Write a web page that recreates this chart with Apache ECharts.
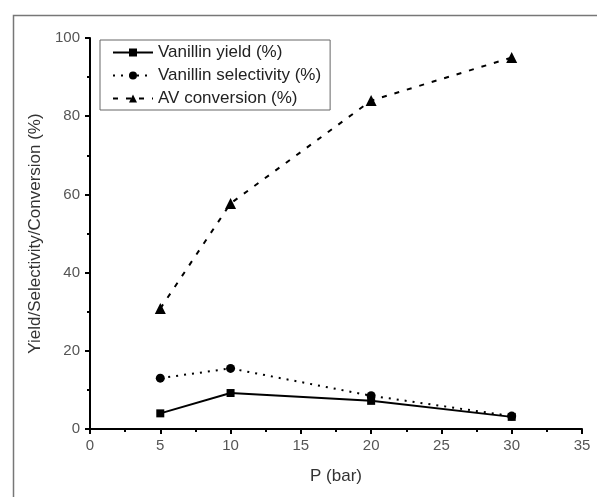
<!DOCTYPE html>
<html>
<head>
<meta charset="utf-8">
<script src="https://cdn.jsdelivr.net/npm/echarts@6/dist/echarts.min.js"></script>
<style>
  html, body { margin: 0; padding: 0; background: #fff; }
  #chart { width: 597px; height: 497px; }
</style>
</head>
<body>
<div id="chart"></div>
<script>
// 压力 (bar)
const pressure = [5, 10, 20, 30];
const yieldVals = [4, 9.2, 7.2, 3.1];
const selectivityVals = [13, 15.5, 8.5, 3.3];
const conversionVals = [30.8, 57.7, 84, 95];
const seriesNames = ['Vanillin yield (%)', 'Vanillin selectivity (%)', 'AV conversion (%)'];

const font = 'Arial, "Liberation Sans", sans-serif';
const pairs = vals => pressure.map((p, i) => [p, vals[i]]);

const chart = echarts.init(document.getElementById('chart'));

const axisCommon = {
  axisLine: { show: true, lineStyle: { color: '#000', width: 2 } },
  axisTick: { show: true, inside: false, length: 5, lineStyle: { color: '#000', width: 2 } },
  minorTick: { show: true, splitNumber: 2, length: 3, lineStyle: { color: '#000', width: 2 } },
  splitLine: { show: false },
  axisLabel: { color: '#555', fontSize: 15, fontFamily: font },
  nameTextStyle: { color: '#333', fontSize: 17, fontFamily: font }
};

chart.setOption({
  animation: false,
  backgroundColor: '#fff',
  // 外框
  graphic: [{
    type: 'rect',
    left: 11, top: 13,
    shape: { width: 640, height: 540 },
    style: { fill: 'none', stroke: '#777', lineWidth: 1.5 },
    z: -1
  }],
  grid: { left: 90, right: 15, top: 38, bottom: 68 },
  legend: {
    orient: 'vertical',
    left: 100, top: 40,
    padding: [4, 9, 3, 12],
    itemGap: 6,
    itemWidth: 40,
    itemHeight: 10,
    borderColor: '#666',
    borderWidth: 1,
    textStyle: { color: '#222', fontSize: 17, fontFamily: font, lineHeight: 17 },
    data: seriesNames
  },
  xAxis: Object.assign({
    type: 'value',
    min: 0, max: 35, interval: 5,
    name: 'P (bar)',
    nameLocation: 'middle',
    nameGap: 39
  }, axisCommon, { axisLabel: Object.assign({}, axisCommon.axisLabel, { margin: 9 }) }),
  yAxis: Object.assign({
    type: 'value',
    min: 0, max: 100, interval: 20,
    name: 'Yield/Selectivity/Conversion (%)',
    nameLocation: 'middle',
    nameGap: 45
  }, axisCommon, { axisLabel: Object.assign({}, axisCommon.axisLabel, { margin: 10 }) }),
  series: [
    {
      name: seriesNames[0],
      type: 'line',
      data: pairs(yieldVals),
      symbol: 'rect', symbolSize: 8,
      itemStyle: { color: '#000' },
      lineStyle: { color: '#000', width: 2, type: 'solid' }
    },
    {
      name: seriesNames[1],
      type: 'line',
      data: pairs(selectivityVals),
      symbol: 'circle', symbolSize: 9,
      itemStyle: { color: '#000' },
      lineStyle: { color: '#000', width: 2, type: [2, 6] }
    },
    {
      name: seriesNames[2],
      type: 'line',
      data: pairs(conversionVals),
      symbol: 'triangle', symbolSize: 11,
      itemStyle: { color: '#000' },
      lineStyle: { color: '#000', width: 2, type: [5, 8] }
    }
  ]
});
</script>
</body>
</html>
